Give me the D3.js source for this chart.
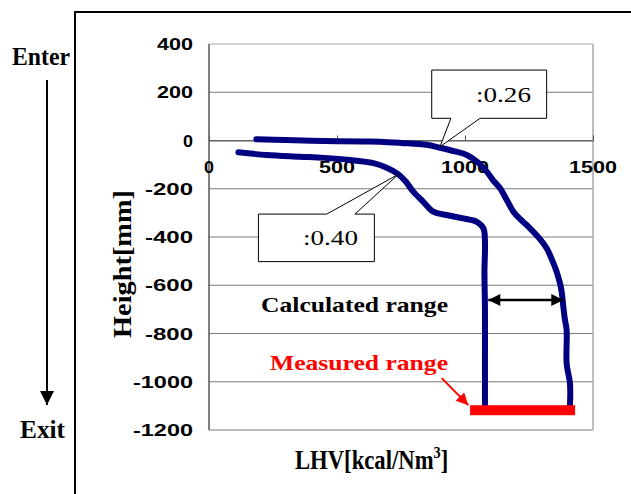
<!DOCTYPE html>
<html><head><meta charset="utf-8">
<script src="https://cdn.jsdelivr.net/npm/d3@7"></script>
<style>body{margin:0;background:#fff}svg{display:block}</style>
</head><body>
<svg id="c" width="631" height="494"></svg>
<script>
// ---- data ----
const xTicks = [0, 500, 1000, 1500];
const yTicks = [400, 200, 0, -200, -400, -600, -800, -1000, -1200];
const curve026 = [[185,5],[300,2],[450,-2],[600,-4],[668,-5],[750,-10],[850,-18],[902,-30],[960,-45],[1007,-60],[1050,-90],[1085,-129],[1110,-165],[1137,-198],[1165,-250],[1189,-295],[1220,-330],[1254,-364],[1290,-405],[1319,-447],[1340,-495],[1358,-544],[1371,-592],[1378,-630],[1384,-689],[1390,-740],[1397,-786],[1397,-924],[1410,-1007],[1410,-1097]];
const curve040 = [[115,-49],[225,-60],[355,-67],[450,-72],[551,-81],[642,-94],[694,-113],[740,-140],[770,-172],[798,-212],[837,-254],[876,-295],[928,-309],[993,-323],[1046,-337],[1072,-364],[1078,-420],[1076,-544],[1078,-700],[1078,-900],[1078,-1097]];
const labels = {c026: ":0.26", c040: ":0.40", calc: "Calculated range", meas: "Measured range",
  xTitle: "LHV[kcal/Nm", yTitle: "Height[mm]", enter: "Enter", exit: "Exit"};
const measuredRange = [1020, 1430, -1118];
const calcRange = [1091, 1384, -661];

// ---- scales ----
const x = d3.scaleLinear().domain([0,1500]).range([209,593]);
const y = d3.scaleLinear().domain([-1200,400]).range([430,44]);
const svg = d3.select("#c");
svg.append("rect").attr("width",631).attr("height",494).attr("fill","#fff");
const serif = "Liberation Serif, Times New Roman, serif";

// outer frame
svg.append("line").attr("x1",75).attr("x2",75).attr("y1",11).attr("y2",494).attr("stroke","#000").attr("stroke-width",2);
svg.append("line").attr("x1",74).attr("x2",631).attr("y1",12).attr("y2",12).attr("stroke","#000").attr("stroke-width",2);

// gridlines
svg.append("g").selectAll("line").data(yTicks).join("line")
  .attr("x1",x(0)).attr("x2",x(1500)).attr("y1",d=>y(d)).attr("y2",d=>y(d))
  .attr("stroke",d=>d===400?"#a8a8a8":"#7a7a7a").attr("stroke-width",1.2);
svg.append("line").attr("x1",x(1500)).attr("x2",x(1500)).attr("y1",y(400)).attr("y2",y(-1200)).attr("stroke","#a8a8a8").attr("stroke-width",1.5);
svg.append("line").attr("x1",x(0)).attr("x2",x(0)).attr("y1",y(400)).attr("y2",y(-1200)).attr("stroke","#555").attr("stroke-width",1.5);

// x axis at y=0
const xa = svg.append("g").attr("transform",`translate(0,${y(0)})`)
  .call(d3.axisTop(x).tickValues(xTicks).tickSize(5).tickFormat(""));
xa.select(".domain").attr("stroke","#555");
xa.selectAll(".tick line").attr("stroke","#555");
svg.append("g").selectAll("text").data(xTicks).join("text")
  .attr("x",d=>x(d)).attr("y",y(0)+32).attr("text-anchor","middle")
  .attr("font-family","Liberation Sans, Arial, sans-serif").attr("font-weight","bold").attr("font-size",17)
  .attr("textLength",d=>String(d).length===1?10:String(d).length*12).attr("lengthAdjust","spacingAndGlyphs")
  .text(d=>d);

// y tick labels
svg.append("g").selectAll("text").data(yTicks).join("text")
  .attr("x",193).attr("y",d=>y(d)+6).attr("text-anchor","end")
  .attr("font-family","Liberation Sans, Arial, sans-serif").attr("font-weight","bold").attr("font-size",17)
  .attr("textLength",d=>String(d).length===1?10:String(d).length*12).attr("lengthAdjust","spacingAndGlyphs")
  .text(d=>d);

// curves
const line = d3.line().x(d=>x(d[0])).y(d=>y(d[1])).curve(d3.curveCatmullRom.alpha(0.5));
[curve026, curve040].forEach(c=>{
  svg.append("path").datum(c).attr("d",line).attr("fill","none")
    .attr("stroke","#000080").attr("stroke-width",6).attr("stroke-linecap","round").attr("stroke-linejoin","round");
});

// measured range bar
svg.append("rect").attr("x",x(measuredRange[0])).attr("width",x(measuredRange[1])-x(measuredRange[0]))
  .attr("y",y(measuredRange[2])-5).attr("height",10).attr("fill","#ff0000");

// defs for arrowheads
const defs = svg.append("defs");
defs.append("marker").attr("id","ab").attr("viewBox","0 0 10 10").attr("refX",10).attr("refY",5)
  .attr("markerWidth",14).attr("markerHeight",12).attr("markerUnits","userSpaceOnUse").attr("orient","auto-start-reverse")
  .append("path").attr("d","M0,0L10,5L0,10z").attr("fill","#000");
defs.append("marker").attr("id","ar").attr("viewBox","0 0 10 10").attr("refX",10).attr("refY",5)
  .attr("markerWidth",14).attr("markerHeight",12).attr("markerUnits","userSpaceOnUse").attr("orient","auto")
  .append("path").attr("d","M0,0L10,5L0,10z").attr("fill","#ff0000");
defs.append("marker").attr("id","ak").attr("viewBox","0 0 10 10").attr("refX",10).attr("refY",5)
  .attr("markerWidth",15).attr("markerHeight",14).attr("markerUnits","userSpaceOnUse").attr("orient","auto")
  .append("path").attr("d","M0,0L10,5L0,10z").attr("fill","#000");

// calculated range double arrow
svg.append("line").attr("x1",x(calcRange[0])).attr("x2",x(calcRange[1])).attr("y1",y(calcRange[2])).attr("y2",y(calcRange[2]))
  .attr("stroke","#000").attr("stroke-width",2.5).attr("marker-start","url(#ab)").attr("marker-end","url(#ab)");

// red arrow
svg.append("line").attr("x1",x(909)).attr("y1",y(-985)).attr("x2",x(1013)).attr("y2",y(-1097))
  .attr("stroke","#ff0000").attr("stroke-width",2).attr("marker-end","url(#ar)");

// callouts
function callout(bx0,bx1,by0,by1,p1,p2,tip,txt,tx,ty,tl,top){
  const X0=x(bx0),X1=x(bx1),Y0=y(by0),Y1=y(by1);
  const P1=x(p1),P2=x(p2),TX=x(tip[0]),TY=y(tip[1]);
  let d;
  if(!top){
    d=`M${X0},${Y0}H${X1}V${Y1}H${P2}L${TX},${TY}L${P1},${Y1}H${X0}Z`;
  } else {
    d=`M${X0},${Y0}H${P1}L${TX},${TY}L${P2},${Y0}H${X1}V${Y1}H${X0}Z`;
  }
  svg.append("path").attr("d",d).attr("fill","#fff").attr("stroke","#000").attr("stroke-width",1);
  svg.append("text").attr("x",tx).attr("y",ty).attr("font-family",serif)
    .attr("font-size",22).attr("textLength",tl).attr("lengthAdjust","spacingAndGlyphs").text(txt);
}
callout(870,1319,292,92,945,1059,[902,-26],labels.c026,476,102,55,false);
callout(193,646,-305,-502,460,570,[740,-140],labels.c040,303,245,55,true);

// annotation texts
svg.append("text").attr("x",261).attr("y",312).attr("font-family",serif)
  .attr("font-weight","bold").attr("font-size",22).attr("textLength",187).attr("lengthAdjust","spacingAndGlyphs").text(labels.calc);
svg.append("text").attr("x",270).attr("y",370).attr("fill","#ff0000").attr("font-family",serif)
  .attr("font-weight","bold").attr("font-size",22).attr("textLength",178).attr("lengthAdjust","spacingAndGlyphs").text(labels.meas);

// axis titles
const xt = svg.append("text").attr("transform","translate(295,469) scale(0.84,1)").attr("font-family",serif)
  .attr("font-weight","bold").attr("font-size",27);
xt.append("tspan").text(labels.xTitle);
xt.append("tspan").attr("font-size",17).attr("dy",-11).text("3");
xt.append("tspan").attr("dy",11).text("]");
svg.append("text").attr("transform","translate(131,264) rotate(-90)").attr("text-anchor","middle")
  .attr("font-family",serif).attr("font-weight","bold").attr("font-size",26)
  .attr("textLength",148).attr("lengthAdjust","spacingAndGlyphs").text(labels.yTitle);

// Enter / Exit
svg.append("text").attr("x",12).attr("y",65).attr("font-family",serif)
  .attr("font-weight","bold").attr("font-size",25).attr("textLength",58).attr("lengthAdjust","spacingAndGlyphs").text(labels.enter);
svg.append("text").attr("x",20).attr("y",438).attr("font-family",serif)
  .attr("font-weight","bold").attr("font-size",25).attr("textLength",45).attr("lengthAdjust","spacingAndGlyphs").text(labels.exit);
svg.append("line").attr("x1",47).attr("x2",47).attr("y1",80).attr("y2",405).attr("stroke","#000").attr("stroke-width",2)
  .attr("marker-end","url(#ak)");
</script>
</body></html>
